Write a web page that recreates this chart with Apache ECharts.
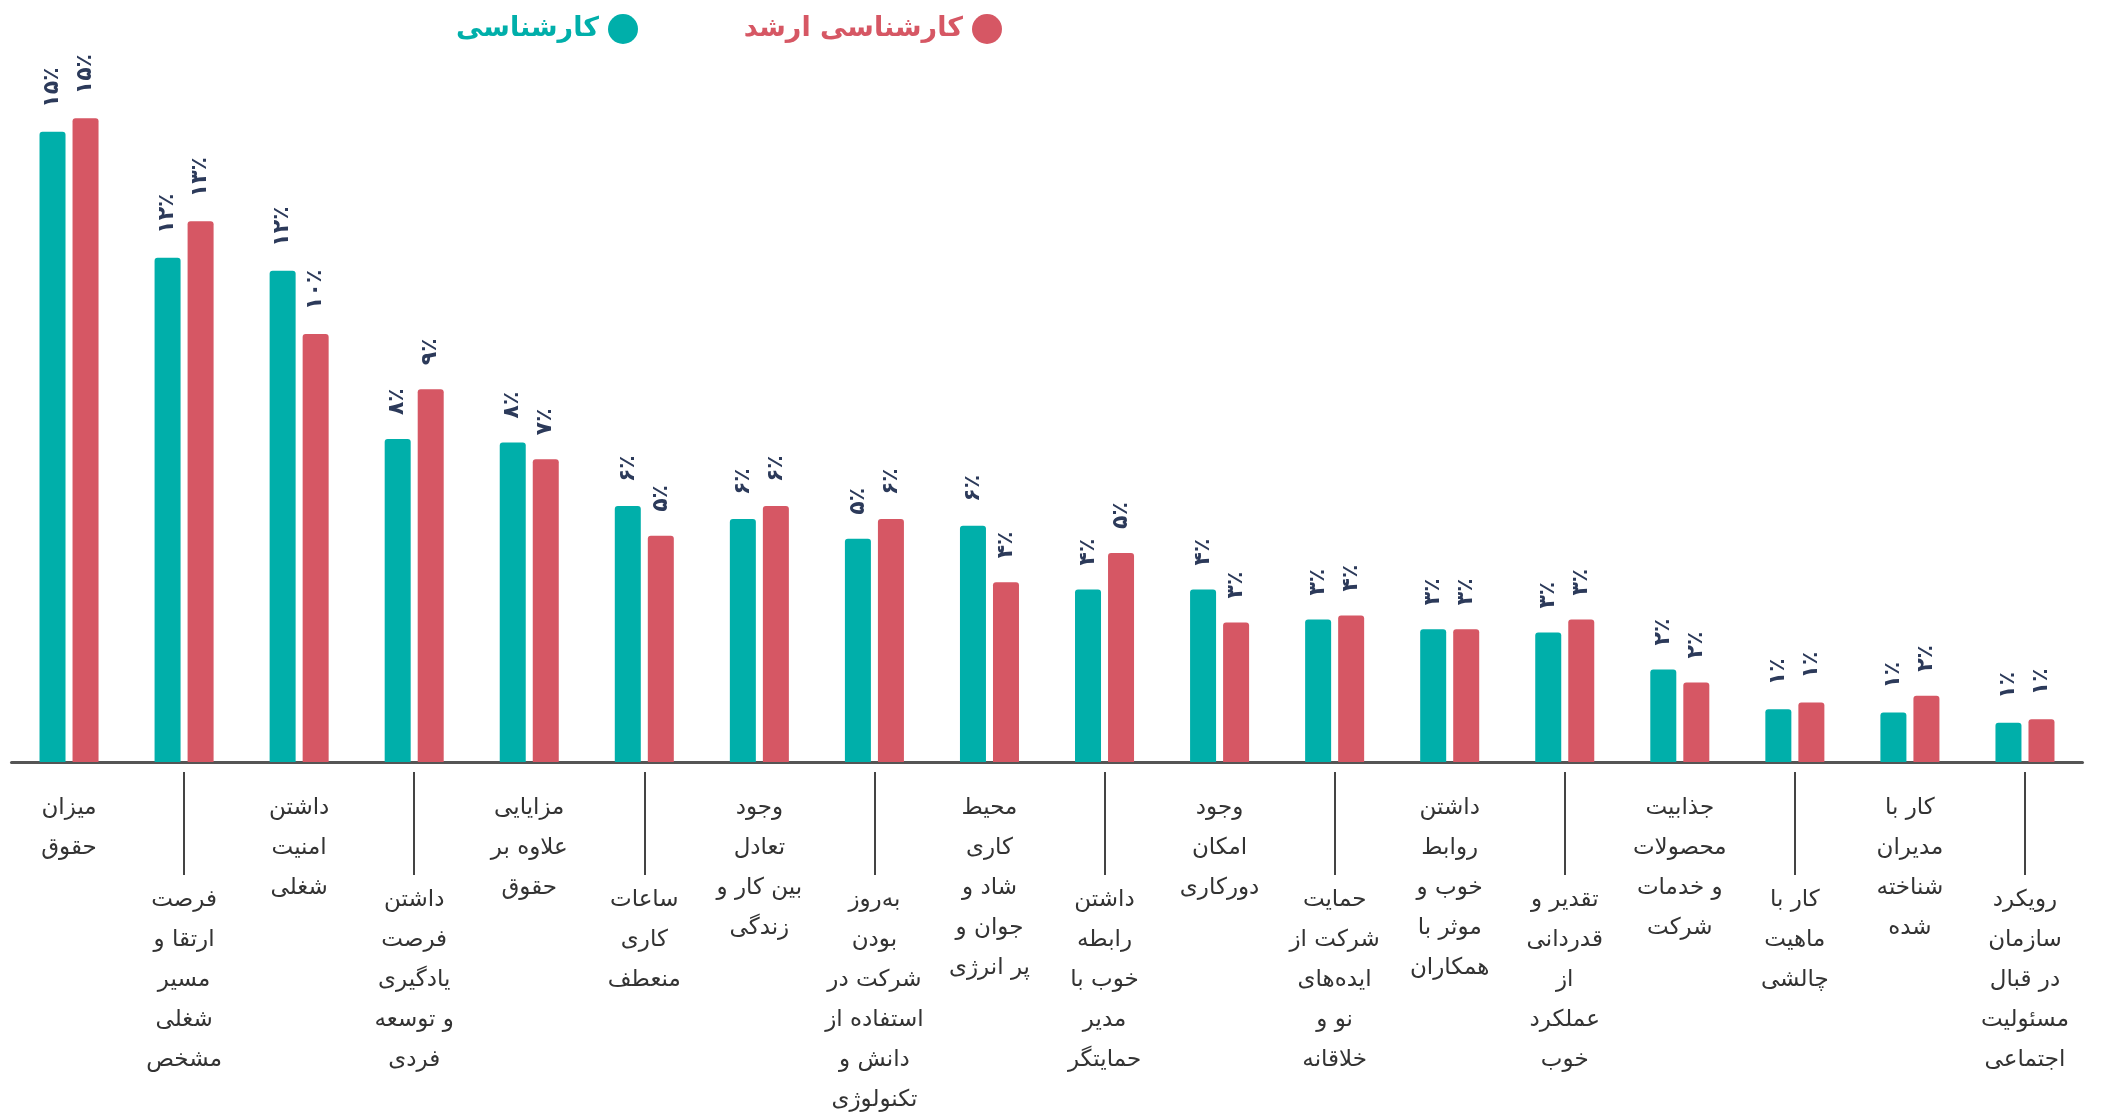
<!DOCTYPE html>
<html lang="fa">
<head>
<meta charset="utf-8">
<title>عوامل مهم در انتخاب شغل</title>
<script src="https://cdn.jsdelivr.net/npm/echarts@6/dist/echarts.min.js"></script>
<style>
  html, body { margin: 0; padding: 0; background: #ffffff; }
  #chart { width: 2103px; height: 1120px; }
</style>
</head>
<body>
<div id="chart"></div>
<script>
// Factors (one entry per bar group, left to right)
const categories = [
  'میزان\nحقوق',
  'فرصت\nارتقا و\nمسیر\nشغلی\nمشخص',
  'داشتن\nامنیت\nشغلی',
  'داشتن\nفرصت\nیادگیری\nو توسعه\nفردی',
  'مزایایی\nعلاوه بر\nحقوق',
  'ساعات\nکاری\nمنعطف',
  'وجود\nتعادل\nبین کار و\nزندگی',
  'به‌روز\nبودن\nشرکت در\nاستفاده از\nدانش و\nتکنولوژی',
  'محیط\nکاری\nشاد و\nجوان و\nپر انرژی',
  'داشتن\nرابطه\nخوب با\nمدیر\nحمایتگر',
  'وجود\nامکان\nدورکاری',
  'حمایت\nشرکت از\nایده‌های\nنو و\nخلاقانه',
  'داشتن\nروابط\nخوب و\nموثر با\nهمکاران',
  'تقدیر و\nقدردانی\nاز\nعملکرد\nخوب',
  'جذابیت\nمحصولات\nو خدمات\nشرکت',
  'کار با\nماهیت\nچالشی',
  'کار با\nمدیران\nشناخته\nشده',
  'رویکرد\nسازمان\nدر قبال\nمسئولیت\nاجتماعی'
];

// Share of respondents (%)
const bachelor = [15.05, 12.04, 11.73, 7.71, 7.63, 6.11, 5.80, 5.33, 5.64, 4.12, 4.12, 3.40, 3.17, 3.09, 2.21, 1.26, 1.18, 0.94];
const master   = [15.37, 12.91, 10.22, 8.90, 7.23, 5.40, 6.11, 5.80, 4.29, 4.99, 3.33, 3.50, 3.17, 3.40, 1.90, 1.42, 1.58, 1.02];

const seriesNames = ['کارشناسی', 'کارشناسی ارشد'];

const TEAL = '#00AFAA';
const RED = '#D65764';
const FONT = '"DejaVu Sans", sans-serif';

const faDigits = '۰۱۲۳۴۵۶۷۸۹';
function toFa(n) {
  return String(n).replace(/[0-9]/g, d => faDigits[+d]);
}
function pctLabel(p) {
  return toFa(Math.round(p.value)) + '٪';
}

const catLabelStyle = {
  interval: 0,
  color: '#333333',
  fontFamily: FONT,
  fontSize: 23,
  lineHeight: 40,
  align: 'center'
};

const valueLabel = {
  show: true,
  position: 'top',
  distance: 24,
  rotate: 90,
  align: 'left',
  verticalAlign: 'middle',
  formatter: pctLabel,
  color: '#2c3a5a',
  fontFamily: FONT,
  fontWeight: 'bold',
  fontSize: 22
};

function legendFor(name, color, right) {
  return {
    data: [name],
    right: right,
    top: 9,
    icon: 'circle',
    itemWidth: 30,
    itemHeight: 30,
    align: 'right',
    selectedMode: false,
    textStyle: {
      color: color,
      fontFamily: FONT,
      fontWeight: 'bold',
      fontSize: 27,
      padding: [0, 4, 0, 0]
    }
  };
}

const chart = echarts.init(document.getElementById('chart'), null, { renderer: 'canvas' });

chart.setOption({
  backgroundColor: '#ffffff',
  animation: false,
  legend: [
    legendFor(seriesNames[0], TEAL, 1460),
    legendFor(seriesNames[1], RED, 1096)
  ],
  grid: { left: 11.5, right: 20.5, top: 50, bottom: 356, containLabel: false },
  xAxis: [
    {
      // main baseline with the labels that sit close to it
      type: 'category',
      data: categories,
      axisLine: { show: true, lineStyle: { color: '#555555', width: 3 } },
      axisTick: { show: false },
      axisLabel: Object.assign({}, catLabelStyle, {
        margin: 26,
        formatter: (v, i) => (i % 2 === 0 ? v : '')
      })
    },
    {
      // separators and the lower row of labels
      type: 'category',
      data: categories,
      position: 'bottom',
      offset: 10,
      axisLine: { show: false },
      axisTick: {
        show: true,
        alignWithLabel: true,
        length: 103,
        interval: (i) => i % 2 === 1,
        lineStyle: { color: '#444444', width: 2 }
      },
      axisLabel: Object.assign({}, catLabelStyle, {
        margin: 108,
        formatter: (v, i) => (i % 2 === 1 ? v : '')
      })
    }
  ],
  yAxis: {
    type: 'value',
    min: 0,
    max: 17,
    show: false,
    splitLine: { show: false }
  },
  series: [
    {
      name: seriesNames[0],
      type: 'bar',
      xAxisIndex: 0,
      data: bachelor,
      barWidth: 26,
      barGap: '27%',
      itemStyle: { color: TEAL, borderRadius: [3, 3, 0, 0] },
      label: valueLabel
    },
    {
      name: seriesNames[1],
      type: 'bar',
      xAxisIndex: 0,
      data: master,
      barWidth: 26,
      barGap: '27%',
      itemStyle: { color: RED, borderRadius: [3, 3, 0, 0] },
      label: valueLabel
    }
  ]
});
</script>
</body>
</html>
